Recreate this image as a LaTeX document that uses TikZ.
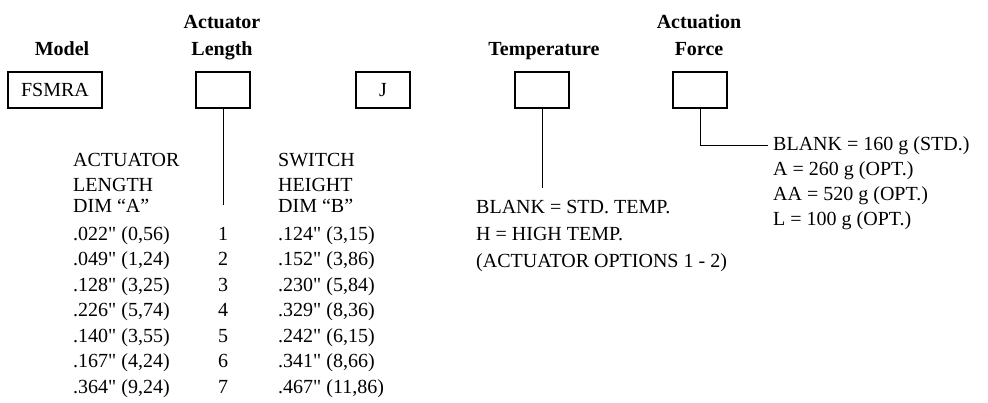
\documentclass[tikz,border=0pt]{standalone}
\usepackage{fontspec}
\setmainfont{Liberation Serif}
\usetikzlibrary{positioning}
\newcommand{\inch}{\textquotedbl}

\begin{document}
\begin{tikzpicture}[x=1pt,y=-1pt,font=\fontsize{20}{25}\selectfont,
   head/.style={font=\fontsize{20}{27}\selectfont\bfseries,align=center,anchor=base,inner sep=0pt},
   field/.style={draw,line width=1.4pt,minimum width=54pt,minimum height=36pt,inner sep=0pt},
   txt/.style={anchor=base west,inner sep=0pt},
   num/.style={anchor=base,inner sep=0pt},
   lead/.style={line width=0.9pt}]
   \useasboundingbox (0,0) rectangle (988,402);

   % headings
   \node[head] (model)  at (62,55)  {Model};
   \node[head] (actlen) at (222,55) {Actuator\\Length};
   \node[head] (temp)   at (544,55) {Temperature};
   \node[head] (force)  at (699,55) {Actuation\\Force};

   % code fields
   \node[field,minimum width=94pt] (fsmra) at (55,90)  {FSMRA};
   \node[field] (lenbox)   at (223,90) {};
   \node[field] (jbox)     at (383,90) {J};
   \node[field] (tempbox)  at (542,90) {};
   \node[field] (forcebox) at (700,90) {};

   % actuator length table
   \node[txt] (acthd1) at (73,166)  {ACTUATOR};
   \node[txt] (acthd2) at (73,191)  {LENGTH};
   \node[txt] (acthd3) at (73,212)  {DIM ``A''};
   \node[txt] (swhd1)  at (278,166) {SWITCH};
   \node[txt] (swhd2)  at (278,191) {HEIGHT};
   \node[txt] (swhd3)  at (278,212) {DIM ``B''};
   \foreach \dima/\n/\dimb [count=\i] in {
      {.022\inch{} (0,56)}/1/{.124\inch{} (3,15)},
      {.049\inch{} (1,24)}/2/{.152\inch{} (3,86)},
      {.128\inch{} (3,25)}/3/{.230\inch{} (5,84)},
      {.226\inch{} (5,74)}/4/{.329\inch{} (8,36)},
      {.140\inch{} (3,55)}/5/{.242\inch{} (6,15)},
      {.167\inch{} (4,24)}/6/{.341\inch{} (8,66)},
      {.364\inch{} (9,24)}/7/{.467\inch{} (11,86)}}{
      \node[txt] (a\i) at (73,{240+25.5*(\i-1)})  {\dima};
      \node[num] (n\i) at (223,{240+25.5*(\i-1)}) {\n};
      \node[txt] (b\i) at (278,{240+25.5*(\i-1)}) {\dimb};
   }
   \coordinate (actend) at (223,205);

   % temperature options
   \node[txt] (t0) at (476,213) {BLANK = STD. TEMP.};
   \node[txt] (t1) at (476,240) {H = HIGH TEMP.};
   \node[txt] (t2) at (476,267) {(ACTUATOR OPTIONS 1 - 2)};
   \coordinate (tempend) at (542,188);

   % actuation force options
   \node[txt] (f0) at (773,150) {BLANK = 160 g (STD.)};
   \node[txt] (f1) at (773,175) {A = 260 g (OPT.)};
   \node[txt] (f2) at (773,200) {AA = 520 g (OPT.)};
   \node[txt] (f3) at (773,225) {L = 100 g (OPT.)};

   \draw[lead] (lenbox.south) -- (actend);
   \draw[lead] (tempbox.south) -- (tempend);
   \draw[lead,shorten >=5pt] (forcebox.south) |- (f0.west);
\end{tikzpicture}
\end{document}
